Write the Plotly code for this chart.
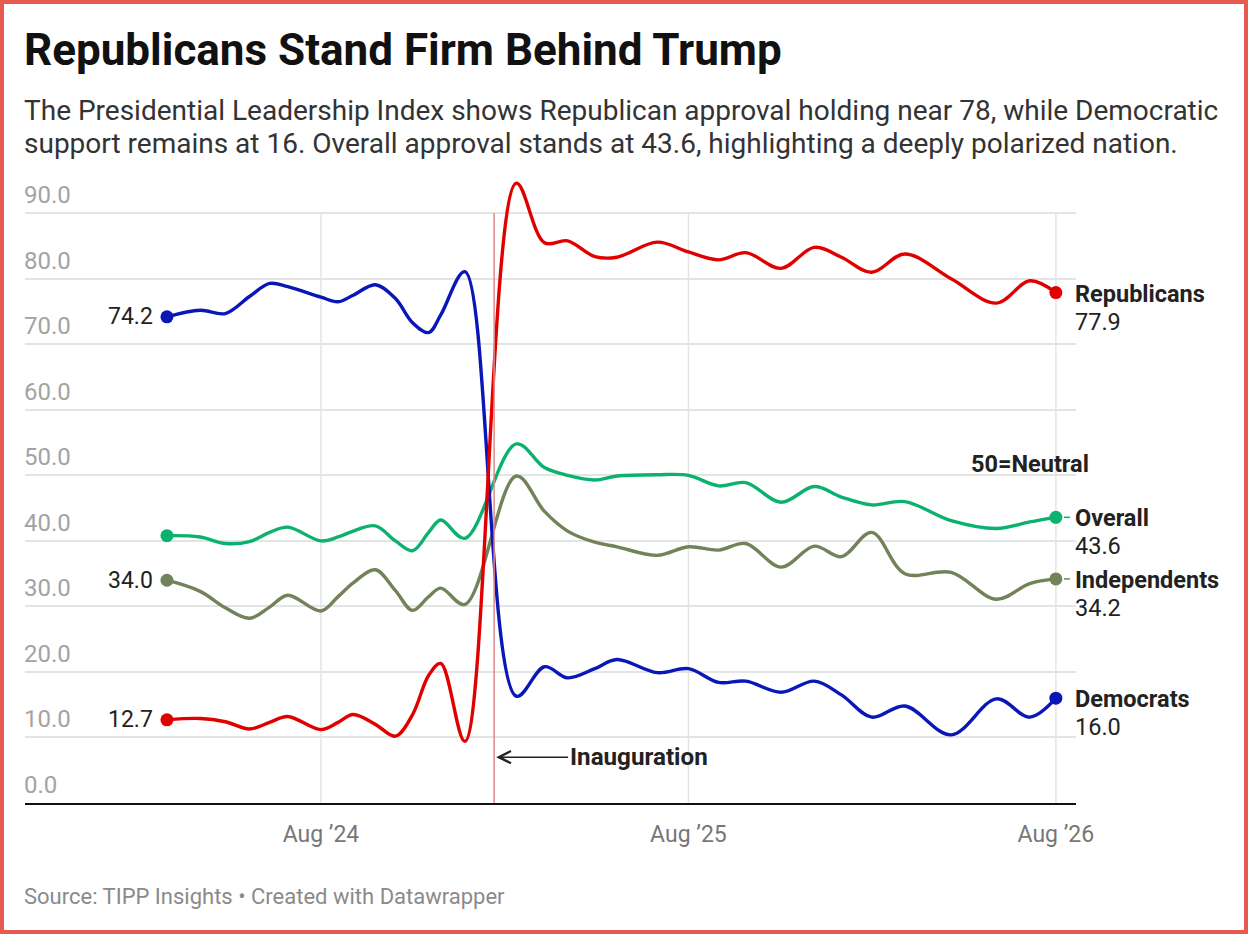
import plotly.graph_objects as go

# Poll dates and index values
dates = ["2024-03-01", "2024-04-03", "2024-04-28", "2024-05-22", "2024-06-11", "2024-06-29",
         "2024-08-01", "2024-08-18", "2024-09-02", "2024-09-24", "2024-10-14", "2024-10-31",
         "2024-11-16", "2024-11-28", "2024-12-22", "2025-02-11", "2025-03-11", "2025-04-03",
         "2025-04-30", "2025-05-22", "2025-07-01", "2025-08-01", "2025-08-31", "2025-09-27",
         "2025-11-01", "2025-12-04", "2025-12-31", "2026-01-30", "2026-03-04", "2026-04-19",
         "2026-06-03", "2026-07-06", "2026-08-01"]

republicans = [12.7, 12.9, 12.4, 11.3, 12.3, 13.2, 11.2, 12.3, 13.5, 12.0, 10.2, 13.5,
               19.5, 21.3, 9.4, 94.6, 85.5, 85.8, 83.4, 83.3, 85.6, 84.1, 82.9, 84.0,
               81.6, 84.8, 83.3, 81.0, 83.8, 80.0, 76.3, 79.7, 77.9]
democrats = [74.2, 75.2, 74.7, 77.3, 79.3, 78.8, 77.2, 76.5, 77.5, 79.1, 77.0, 73.3,
             71.8, 74.5, 81.1, 16.3, 20.8, 19.1, 20.5, 21.9, 19.9, 20.5, 18.4, 18.6,
             16.9, 18.6, 16.5, 13.1, 14.8, 10.4, 15.9, 13.1, 16.0]
overall = [40.8, 40.6, 39.6, 39.9, 41.3, 42.1, 40.0, 40.6, 41.5, 42.3, 40.0, 38.5,
           41.3, 43.2, 40.4, 54.8, 51.2, 50.0, 49.3, 49.9, 50.1, 50.0, 48.4, 48.9,
           45.9, 48.3, 46.7, 45.5, 46.0, 43.1, 41.9, 42.9, 43.6]
independents = [34.0, 32.3, 29.8, 28.2, 29.9, 31.7, 29.3, 31.5, 33.6, 35.6, 32.4, 29.4,
                31.5, 32.8, 30.3, 49.9, 44.5, 41.5, 39.8, 39.1, 37.8, 39.1, 38.6, 39.6,
                36.0, 39.2, 37.6, 41.3, 35.0, 35.2, 31.1, 33.5, 34.2]

y_ticks = [0, 10, 20, 30, 40, 50, 60, 70, 80, 90]
x_ticks = ["2024-08-01", "2025-08-01", "2026-08-01"]
x_tick_labels = ["Aug ’24", "Aug ’25", "Aug ’26"]
inauguration = "2025-01-20"

# name, values, colour, show start label, connector dash at end
series = [
    ("Overall", overall, "#0bb26f", False, True),
    ("Independents", independents, "#728259", True, True),
    ("Democrats", democrats, "#0a17b8", True, False),
    ("Republicans", republicans, "#e10000", True, False),
]

FONT = "Roboto"
W, H = 1248, 934
L, R, T, B = 25, 172, 174, 131


def px(x):
    # page pixel -> paper x
    return (x - L) / (W - L - R)


def py(y):
    # page pixel -> paper y
    return (H - B - y) / (H - T - B)


fig = go.Figure()

for name, vals, color, _, _ in series:
    fig.add_trace(go.Scatter(x=dates, y=vals, mode="lines", name=name,
                             line=dict(color=color, width=3.4, shape="spline", smoothing=1.0),
                             hoverinfo="skip"))
    fig.add_trace(go.Scatter(x=[dates[0], dates[-1]], y=[vals[0], vals[-1]], mode="markers",
                             marker=dict(color=color, size=13), hoverinfo="skip"))

annotations = []
shapes = []

# y labels sit above their gridlines
for v in y_ticks:
    annotations.append(dict(x=0, xref="paper", y=v, yref="y", text=f"{v:.1f}",
                            xanchor="left", yanchor="middle", xshift=-3, yshift=18, showarrow=False,
                            font=dict(family=FONT, size=24, color="#a3a3a3")))

# vertical gridlines
for d in x_ticks:
    shapes.append(dict(type="line", xref="x", yref="y", x0=d, x1=d, y0=0, y1=90,
                       line=dict(color="#e4e4e4", width=1.5), layer="below"))

# inauguration marker
shapes.append(dict(type="line", xref="x", yref="y", x0=inauguration, x1=inauguration, y0=0, y1=90,
                   line=dict(color="#e08a8a", width=1.5)))
annotations.append(dict(x=inauguration, xref="x", y=7.0, yref="y", ax=74, ay=0,
                        text="<b>Inauguration</b>", xanchor="left", yanchor="middle",
                        showarrow=True, arrowhead=5, arrowsize=1.6, arrowwidth=1.5,
                        arrowcolor="#222", standoff=2,
                        font=dict(family=FONT, size=24.2, color="#222")))

# start and end labels
for name, vals, color, start_label, dash in series:
    if start_label:
        annotations.append(dict(x=dates[0], xref="x", y=vals[0], yref="y", text=f"{vals[0]:.1f}",
                                xanchor="right", yanchor="middle", xshift=-12, showarrow=False,
                                font=dict(family=FONT, size=23, color="#222")))
    annotations.append(dict(x=dates[-1], xref="x", y=vals[-1], yref="y", text=f"<b>{name}</b>",
                            xanchor="left", yanchor="middle", xshift=17, yshift=-1,
                            showarrow=False, font=dict(family=FONT, size=23.5, color="#222")))
    annotations.append(dict(x=dates[-1], xref="x", y=vals[-1], yref="y", text=f"{vals[-1]:.1f}",
                            xanchor="left", yanchor="middle", xshift=17, yshift=-29,
                            showarrow=False, font=dict(family=FONT, size=23.5, color="#222")))
    if dash:
        shapes.append(dict(type="line", xref="paper", yref="y", x0=px(1064), x1=px(1070),
                           y0=vals[-1], y1=vals[-1], line=dict(color=color, width=1.5)))

annotations.append(dict(x=px(1030), xref="paper", y=py(464), yref="paper", text="<b>50=Neutral</b>",
                        xanchor="center", yanchor="middle", showarrow=False,
                        font=dict(family=FONT, size=23.5, color="#222")))

# title, subtitle, source
annotations.append(dict(x=px(22), xref="paper", y=py(50), yref="paper",
                        text="<b>Republicans Stand Firm Behind Trump</b>",
                        xanchor="left", yanchor="middle", showarrow=False,
                        font=dict(family=FONT, size=44, color="#111")))
subtitle = ["The Presidential Leadership Index shows Republican approval holding near 78, while Democratic",
            "support remains at 16. Overall approval stands at 43.6, highlighting a deeply polarized nation."]
for i, line in enumerate(subtitle):
    annotations.append(dict(x=px(22), xref="paper", y=py(110 + 33 * i), yref="paper", text=line,
                            xanchor="left", yanchor="middle", align="left", showarrow=False,
                            font=dict(family=FONT, size=28, color="#333")))
annotations.append(dict(x=px(22), xref="paper", y=py(896), yref="paper",
                        text="Source: TIPP Insights • Created with Datawrapper",
                        xanchor="left", yanchor="middle", showarrow=False,
                        font=dict(family=FONT, size=22, color="#8a8a8a")))

# outer frame
shapes.append(dict(type="rect", xref="paper", yref="paper",
                   x0=px(2), x1=px(W - 2), y0=py(H - 2), y1=py(2),
                   line=dict(color="#e85a4f", width=4)))

fig.update_layout(
    width=W, height=H,
    margin=dict(l=L, r=R, t=T, b=B),
    paper_bgcolor="white", plot_bgcolor="white",
    showlegend=False,
    font=dict(family=FONT),
    annotations=annotations,
    shapes=shapes,
    xaxis=dict(range=["2023-10-12", "2026-08-21"], tickvals=x_ticks, ticktext=x_tick_labels,
               showgrid=False, zeroline=False, showline=True, linecolor="#111", linewidth=2,
               ticks="outside", ticklen=9, tickcolor="rgba(0,0,0,0)",
               tickfont=dict(family=FONT, size=23, color="#777")),
    yaxis=dict(range=[0, 96], tickvals=y_ticks, showticklabels=False, showgrid=True,
               gridcolor="#e4e4e4", gridwidth=1.5, zeroline=False),
)

fig.write_html("out.html", config={"displayModeBar": False},
               post_script="document.body.style.margin='0';")
